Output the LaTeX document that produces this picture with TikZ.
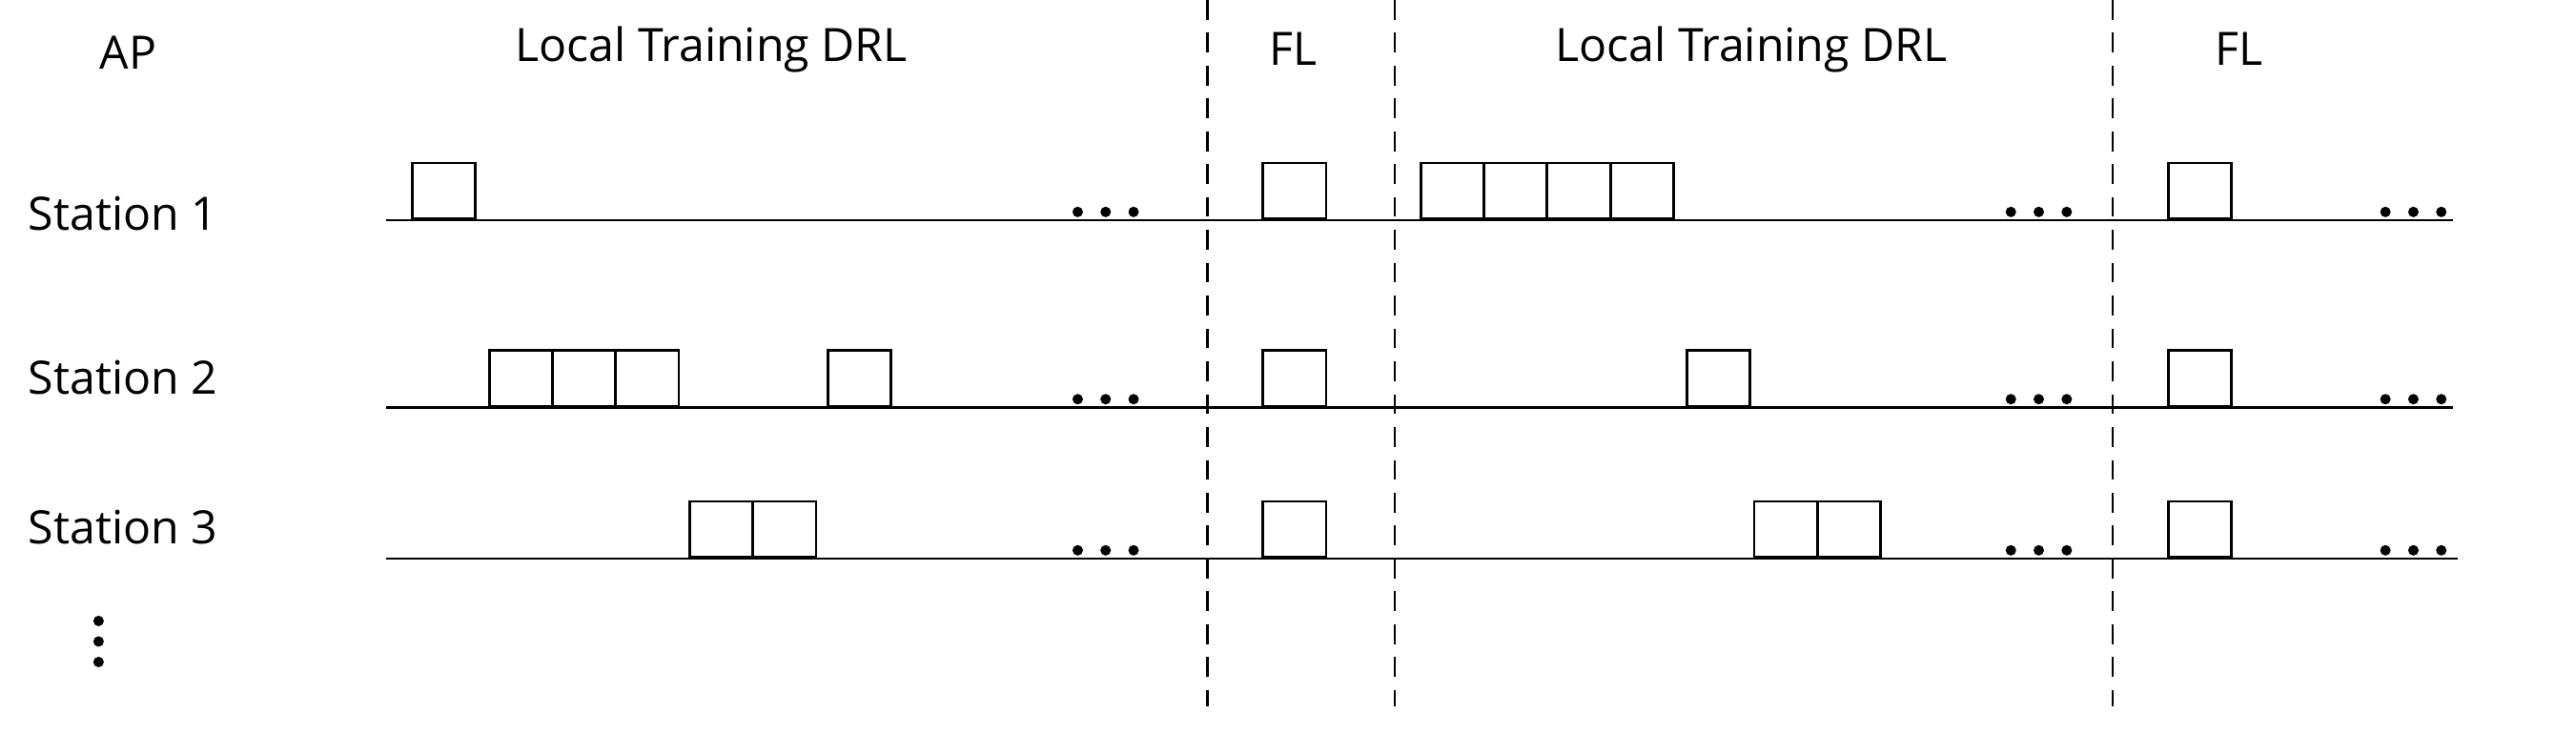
\documentclass[tikz,border=0pt]{standalone}
\usepackage{fontspec}
\setmainfont{Open Sans}
\begin{document}
\begin{tikzpicture}[x=0.5pt,y=-0.5pt,
  slot/.style={draw,line width=0.8pt,minimum width=19.2pt,minimum height=17pt,inner sep=0pt,anchor=south west},
  lbl/.style={font=\fontsize{14pt}{16pt}\selectfont,inner sep=0pt},
  dot/.style={circle,fill,inner sep=0pt,minimum size=3.2pt}]
\useasboundingbox (0,0) rectangle (1568,446.8);
% dashed separators
\foreach \x/\n in {735/a,849/b,1286/c}{
  \coordinate (t\n) at (\x,0); \coordinate (b\n) at (\x,430);
  \draw[dashed,line width=0.7pt,dash pattern=on 6pt off 4pt] (t\n) -- (b\n);}
% headers
\node[lbl] (ap) at (78,32) {AP};
\node[lbl] (h1) at (433,30) {Local Training DRL};
\node[lbl] (h2) at (787,30) {FL};
\node[lbl] (h3) at (1066,30) {Local Training DRL};
\node[lbl] (h4) at (1363,30) {FL};
% station labels
\node[lbl,anchor=west] (s1) at (17,130) {Station 1};
\node[lbl,anchor=west] (s2) at (17,230) {Station 2};
\node[lbl,anchor=west] (s3) at (17,321) {Station 3};
\foreach \y [count=\i] in {378,390.5,403}{\node[dot] (vd\i) at (60,\y) {};}
% time lines
\foreach \y/\e [count=\i] in {134/1493,248/1493,340/1496}{
  \coordinate (l\i a) at (235,\y); \coordinate (l\i b) at (\e,\y);
  \draw[line width=0.8pt] (l\i a) -- (l\i b);}
% boxes
\foreach \x [count=\k] in {250,768,864,902.5,941,979.5,1319}{\node[slot] (b1-\k) at (\x,134) {};}
\foreach \x [count=\k] in {297,335.5,374,503,768,1026,1319}{\node[slot] (b2-\k) at (\x,248) {};}
\foreach \x [count=\k] in {419,457.5,768,1067,1105.5,1319}{\node[slot] (b3-\k) at (\x,340) {};}
% ellipsis dots
\foreach \y [count=\r] in {129,243,335}{
  \foreach \x [count=\g] in {656,1224,1452}{
    \foreach \d in {0,17,34}{\node[dot] (e\r-\g-\d) at (\x+\d,\y) {};}}}
\end{tikzpicture}
\end{document}
